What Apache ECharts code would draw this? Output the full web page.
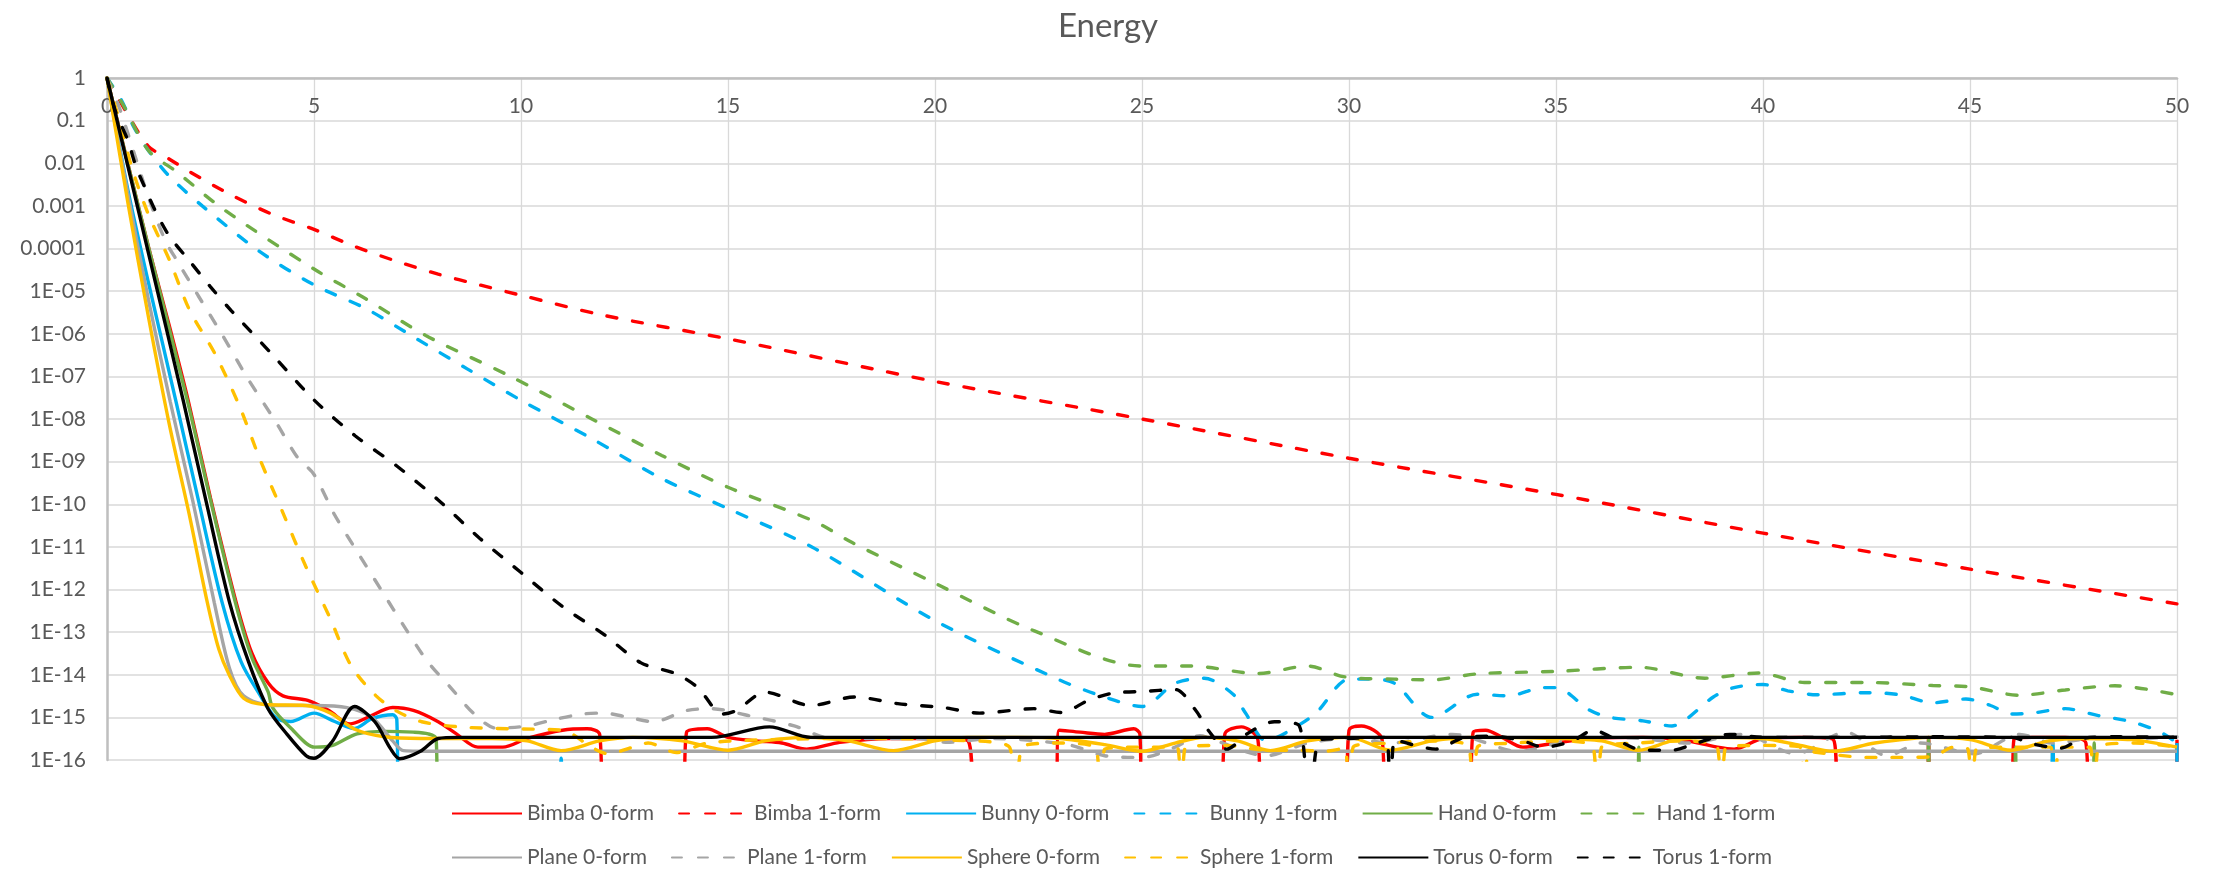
<!DOCTYPE html>
<html>
<head>
<meta charset="utf-8">
<title>Energy</title>
<script src="https://cdn.jsdelivr.net/npm/echarts@6/dist/echarts.min.js"></script>
<style>
  html, body { margin: 0; padding: 0; background: #ffffff; }
  #energyChart { width: 2216px; height: 870px; }
</style>
</head>
<body>
<div id="energyChart"></div>
<script>
// stands for an energy of 0, which a log axis cannot show: the line just drops out of the plot
const ZERO = 1e-18

const xTicks = [0, 5, 10, 15, 20, 25, 30, 35, 40, 45, 50]
const yTickLabels = ['1', '0.1', '0.01', '0.001', '0.0001', '1E-05', '1E-06', '1E-07', '1E-08',
    '1E-09', '1E-10', '1E-11', '1E-12', '1E-13', '1E-14', '1E-15', '1E-16']

const seriesNames = ['Bimba 0-form', 'Bimba 1-form', 'Bunny 0-form', 'Bunny 1-form', 'Hand 0-form', 'Hand 1-form',
    'Plane 0-form', 'Plane 1-form', 'Sphere 0-form', 'Sphere 1-form', 'Torus 0-form', 'Torus 1-form']

// [iteration, energy]
const bimba0 = [[0, 1], [0.5, 1e-2], [1, 1.1e-4], [1.5, 1.6e-6], [1.97, 2.5e-8], [2.5, 1.4e-10], [3.12, 5e-13],
    [3.5, 3.2e-14], [3.9, 6.3e-15], [4.25, 3.2e-15], [4.85, 2.5e-15], [5.36, 1.45e-15], [5.87, 7e-16], [6.3, 1e-15],
    [6.9, 1.7e-15], [7.4, 1.45e-15], [8, 7.9e-16], [8.44, 4.1e-16], [8.96, 2e-16], [9.56, 2e-16], [10.15, 3.2e-16],
    [11, 5e-16], [11.6, 5.4e-16], [11.9, 4e-16], [12, ZERO], [13.9, ZERO], [14, 4.5e-16], [14.5, 5.4e-16],
    [15, 3.4e-16], [15.7, 2.8e-16], [16.3, 2.5e-16], [16.9, 1.8e-16], [17.7, 2.6e-16], [18.9, 3.2e-16],
    [20.2, 3.2e-16], [20.8, 2.8e-16], [21, ZERO], [22.9, ZERO], [23, 5e-16], [23.5, 4.5e-16], [24.1, 4e-16],
    [24.8, 5.4e-16], [24.95, 4e-16], [25, ZERO], [26.9, ZERO], [27, 4e-16], [27.4, 6e-16], [27.8, 3e-16],
    [27.9, ZERO], [29.9, ZERO], [30, 5e-16], [30.3, 6.3e-16], [30.8, 3e-16], [30.9, ZERO], [32.9, ZERO],
    [33, 4.5e-16], [33.3, 5e-16], [33.7, 3.4e-16], [34.2, 2e-16], [35, 2.5e-16], [35.8, 3.2e-16], [37.1, 3.4e-16],
    [38, 3e-16], [38.9, 2e-16], [39.3, 1.8e-16], [40, 3.2e-16], [40.9, 3.4e-16], [41.7, 3e-16], [41.85, ZERO],
    [43.95, ZERO], [44, 3.4e-16], [44.05, ZERO], [46, ZERO], [46.06, 3e-16], [46.5, 3.4e-16], [47.3, 3.4e-16],
    [47.8, 2.5e-16], [47.9, ZERO], [49.95, ZERO], [50, 3e-16]]
const bimba1 = [[0, 1], [0.5, 0.14], [1, 0.025], [1.5, 0.0126], [2, 0.0063], [3, 1.8e-3], [4, 6.3e-4], [5, 2.8e-4],
    [6, 1.1e-4], [7, 5e-5], [8, 2.5e-5], [9, 1.4e-5], [10, 8e-6], [12, 2.7e-6], [15, 7.6e-7], [20, 7.6e-8],
    [25, 1e-8], [30, 1.2e-9], [35, 1.7e-10], [40, 2.1e-11], [45, 3e-12], [50, 4.6e-13]]
const bunny0 = [[0, 1], [0.5, 2.5e-3], [1, 1.6e-5], [1.67, 2.5e-8], [2.22, 1.1e-10], [2.78, 5e-13], [3.24, 2e-14],
    [3.7, 3.3e-15], [4.07, 1e-15], [4.44, 8e-16], [5, 1.26e-15], [5.5, 8e-16], [5.97, 5.5e-16], [6.4, 9.3e-16],
    [6.9, 1.15e-15], [7, 9e-16], [7.05, ZERO], [10.9, ZERO], [10.97, 1.1e-16], [11.04, ZERO], [46.9, ZERO],
    [47, 2.5e-16], [47.1, ZERO], [49.95, ZERO], [50, 2.5e-16]]
const bunny1 = [[0, 1], [0.35, 0.3], [0.65, 0.07], [1, 0.02], [1.5, 5e-3], [2.3, 1e-3], [3.65, 9e-5], [5, 1.4e-5],
    [6.25, 3.9e-6], [7.48, 7.6e-7], [8.7, 1.5e-7], [10, 2.75e-8], [11.7, 3.5e-9], [13.4, 4e-10], [15, 7.9e-11],
    [17.1, 9.1e-12], [20, 1.86e-13], [23, 7.6e-15], [24.1, 3e-15], [25, 1.8e-15], [25.8, 6.3e-15], [26.5, 8.3e-15],
    [27.2, 3.5e-15], [27.5, 1.26e-15], [28, 2.8e-16], [28.5, 4.5e-16], [29.2, 1.26e-15], [30, 7.9e-15],
    [30.6, 7.9e-15], [31.1, 6.3e-15], [32, 1e-15], [33.1, 3.5e-15], [33.85, 3.2e-15], [34.7, 5e-15], [35, 5e-15],
    [35.8, 1.5e-15], [36.3, 1e-15], [37.1, 8.3e-16], [37.8, 6.3e-16], [38.1, 8.3e-16], [38.8, 3e-15], [39.3, 5e-15],
    [40, 5.9e-15], [40.6, 4.2e-15], [41.3, 3.4e-15], [42.5, 3.8e-15], [43.3, 3.4e-15], [44.1, 2.2e-15],
    [44.9, 2.7e-15], [45.5, 1.9e-15], [46, 1.2e-15], [46.5, 1.26e-15], [47.3, 1.6e-15], [48.1, 1.1e-15],
    [48.9, 7.9e-16], [49.6, 4.5e-16], [50, 2.5e-16]]
const hand0 = [[0, 1], [0.5, 1e-2], [1, 1.1e-4], [1.95, 2.5e-8], [2.5, 1.26e-10], [3.1, 5e-13], [3.5, 2.5e-14],
    [3.89, 4e-15], [4, 1.7e-15], [4.42, 5.9e-16], [5.02, 2e-16], [5.45, 2.2e-16], [6.04, 4.1e-16], [6.73, 4.7e-16],
    [7.4, 4.5e-16], [7.76, 4.1e-16], [7.95, 3.2e-16], [8, ZERO], [36.95, ZERO], [37, 2e-16], [37.05, ZERO],
    [43.95, ZERO], [44, 3e-16], [44.05, ZERO], [46.05, ZERO], [46.1, 2e-16], [46.15, ZERO], [47.95, ZERO],
    [48, 2.5e-16], [48.05, ZERO], [50, ZERO]]
const hand1 = [[0, 1], [0.38, 0.245], [1, 0.02], [1.68, 6.3e-3], [2.8, 8.5e-4], [5, 3.3e-5], [6.25, 6.6e-6],
    [7.7, 9.1e-7], [9.7, 1.05e-7], [11.7, 1.02e-8], [13.4, 1.4e-9], [15, 2.5e-10], [17.1, 3.9e-11], [18, 1.26e-11],
    [20, 1.4e-12], [22.4, 1.07e-13], [25, 1.6e-14], [26.2, 1.6e-14], [27.8, 1.07e-14], [29, 1.6e-14],
    [29.9, 8.9e-15], [31.1, 7.9e-15], [32, 7.6e-15], [33.1, 1.05e-14], [35, 1.2e-14], [37, 1.5e-14],
    [38.6, 8.3e-15], [39.9, 1.1e-14], [41, 6.6e-15], [42.5, 6.6e-15], [44.1, 5.6e-15], [45, 5.2e-15],
    [46.2, 3.3e-15], [47.3, 4.4e-15], [48.5, 5.5e-15], [50, 3.4e-15]]
const plane0 = [[0, 1], [0.5, 2e-3], [1, 6.3e-6], [1.53, 2.5e-8], [2.08, 1.1e-10], [2.59, 5e-13], [2.96, 1.4e-14],
    [3.3, 3.2e-15], [4, 1.9e-15], [5, 1.9e-15], [5.8, 1.7e-15], [6.4, 1e-15], [6.9, 2.8e-16], [7.16, 1.66e-16],
    [8, 1.6e-16], [20, 1.6e-16], [35, 1.6e-16], [50, 1.6e-16]]
const plane1 = [[0, 1], [0.3, 0.2], [0.7, 1.26e-2], [1, 1.6e-3], [1.4, 1.6e-4], [1.7, 5e-5], [2.2, 7.9e-6],
    [2.8, 8.9e-7], [3.4, 8.9e-8], [4.1, 7.9e-9], [4.6, 1.26e-9], [5, 5e-10], [5.5, 5.6e-11], [6.1, 6.3e-12],
    [6.65, 8.9e-13], [7.2, 1.26e-13], [7.75, 2e-14], [8.3, 5e-15], [8.85, 1.26e-15], [9.4, 5.6e-16],
    [10.15, 6.3e-16], [10.8, 8.9e-16], [11.5, 1.2e-15], [12, 1.26e-15], [12.6, 1e-15], [13.2, 7.9e-16],
    [14, 1.45e-15], [14.6, 1.6e-15], [15.5, 1.1e-15], [16.6, 6.3e-16], [17.5, 3.2e-16], [19.6, 3.2e-16],
    [20.3, 2.6e-16], [21.4, 3.2e-16], [23.2, 2.3e-16], [24.1, 1.26e-16], [25, 1.15e-16], [25.8, 2e-16],
    [26.4, 3.7e-16], [26.8, 2.8e-16], [28, 1.26e-16], [29, 2.5e-16], [30, 3.2e-16], [31, 2.5e-16], [32.5, 4e-16],
    [34.1, 1.6e-16], [35.75, 3.5e-16], [37, 3.2e-16], [38.2, 2.5e-16], [39.5, 4e-16], [40.8, 1.4e-16],
    [42, 4.5e-16], [43, 1.26e-16], [43.8, 2.5e-16], [45.1, 1.4e-16], [46.2, 4e-16], [47, 2.5e-16], [48, 3.2e-16],
    [49, 3.2e-16], [50, 3.5e-16]]
const sphere0 = [[0, 1], [0.5, 1.26e-3], [1, 2.5e-6], [1.5, 7.9e-9], [2, 5e-11], [2.4, 6.3e-13], [2.7, 4e-14],
    [2.95, 1e-14], [3.3, 2.8e-15], [3.8, 2e-15], [4.8, 1.9e-15], [5.4, 1.26e-15], [6, 5.2e-16], [6.7, 3.5e-16],
    [7.6, 3.2e-16], [8.5, 3.2e-16], [9.3, 3.2e-16], [10.15, 2.8e-16], [10.97, 1.66e-16], [11.9, 2.8e-16],
    [12.7, 3.4e-16], [13.9, 2.8e-16], [15, 1.7e-16], [15.9, 2.8e-16], [16.9, 3.4e-16], [17.9, 2.8e-16],
    [19, 1.66e-16], [20, 2.8e-16], [20.8, 3.4e-16], [22, 3.4e-16], [23, 3.2e-16], [24.1, 2.3e-16], [25, 1.6e-16],
    [25.8, 2.5e-16], [26.5, 3.4e-16], [27.3, 2.8e-16], [28.1, 1.66e-16], [29, 2.8e-16], [30, 3.4e-16],
    [31, 1.7e-16], [32, 2.8e-16], [33, 3.4e-16], [35, 3.2e-16], [36.1, 2.8e-16], [37, 1.7e-16], [37.8, 2.8e-16],
    [38.6, 3.4e-16], [40, 3.2e-16], [40.9, 2.2e-16], [41.7, 1.6e-16], [42.7, 2.5e-16], [44.1, 3.4e-16],
    [45, 3e-16], [46, 1.7e-16], [46.9, 2.8e-16], [47.7, 3.2e-16], [48.9, 3e-16], [50, 2e-16]]
const sphere1 = [[0, 1], [0.3, 0.1], [0.6, 7.9e-3], [1, 6.3e-4], [1.5, 5.6e-5], [2, 3.5e-6], [2.6, 3.5e-7],
    [3.2, 2e-8], [3.7, 1.1e-9], [4.25, 6.3e-11], [4.8, 3.5e-12], [5.4, 2e-13], [5.9, 1.6e-14], [6.5, 3.2e-15],
    [7, 1.4e-15], [7.6, 7.9e-16], [8.5, 6e-16], [9.7, 5.4e-16], [11, 5e-16], [11.7, 2e-16], [12.1, 1.4e-16],
    [12.7, 2e-16], [13.07, 2.5e-16], [13.75, 1.5e-16], [14.5, 2.5e-16], [16, 3e-16], [18, 3.2e-16], [20, 3e-16],
    [21.8, 2e-16], [21.95, ZERO], [22.1, 2e-16], [23, 2.5e-16], [23.9, 1.8e-16], [24, ZERO], [24.1, 1.8e-16],
    [25, 2e-16], [25.85, 2e-16], [25.95, ZERO], [26.05, 2e-16], [27, 2.2e-16], [28, 1.7e-16], [28.8, 1.7e-16],
    [29.4, 1.6e-16], [29.9, 1.9e-16], [30, ZERO], [30.1, 2e-16], [31, 2.5e-16], [32, 2.8e-16], [32.9, 2e-16],
    [33, ZERO], [33.1, 2e-16], [34, 2.5e-16], [35, 2.8e-16], [35.9, 2e-16], [36, ZERO], [36.1, 2e-16],
    [37, 2.5e-16], [38, 2.8e-16], [38.9, 2e-16], [39, ZERO], [39.1, 2e-16], [40, 2.2e-16], [40.9, 2e-16],
    [41, ZERO], [41.1, 1.6e-16], [42.5, 1.15e-16], [43.3, 1.15e-16], [44.1, 1.2e-16], [44.6, 2e-16],
    [44.95, 1.8e-16], [45.05, ZERO], [45.15, 1.8e-16], [46, 2e-16], [46.95, 2e-16], [47.05, ZERO],
    [47.15, 2e-16], [47.9, 2e-16], [48, ZERO], [48.1, 2e-16], [49, 2.5e-16], [50, 2e-16]]
const torus0 = [[0, 1], [0.5, 8.9e-3], [1, 7.9e-5], [1.85, 2.5e-8], [2.4, 1.1e-10], [2.96, 5e-13], [3.42, 2e-14],
    [3.89, 1.6e-15], [4.35, 4e-16], [4.81, 1.26e-16], [5, 1.1e-16], [5.45, 2.8e-16], [5.98, 1.8e-15],
    [6.47, 7.9e-16], [6.84, 1.9e-16], [7.07, 1.07e-16], [7.57, 1.6e-16], [8, 3.2e-16], [8.5, 3.4e-16],
    [10, 3.4e-16], [14.6, 3.4e-16], [16, 6e-16], [17, 3.4e-16], [20, 3.4e-16], [30, 3.4e-16], [40, 3.4e-16],
    [50, 3.4e-16]]
const torus1 = [[0, 1], [0.2, 0.17], [0.5, 3.5e-2], [0.7, 8.3e-3], [0.9, 2.9e-3], [1.16, 7.9e-4], [1.5, 2e-4],
    [2, 5e-5], [2.5, 1.26e-5], [3, 3.5e-6], [4, 3.2e-7], [5, 2.8e-8], [6, 4e-9], [7, 7.9e-10], [8, 1.26e-10],
    [9, 1.6e-11], [10, 2.5e-12], [11, 4e-13], [12, 8.9e-14], [12.9, 1.9e-14], [13.75, 1.05e-14], [14.27, 5e-15],
    [14.87, 1.2e-15], [15.2, 1.45e-15], [15.9, 3.9e-15], [17, 1.9e-15], [18.06, 3e-15], [19.1, 2.1e-15],
    [20.2, 1.7e-15], [21.08, 1.26e-15], [22.4, 1.6e-15], [23.06, 1.3e-15], [23.7, 2.5e-15], [24.3, 3.7e-15],
    [25.1, 4.1e-15], [25.8, 4.5e-15], [26.3, 1.45e-15], [26.6, 5e-16], [27.04, 1.8e-16], [27.6, 4.5e-16],
    [28.2, 7.9e-16], [28.8, 6.3e-16], [29.05, ZERO], [29.3, 3e-16], [30, 3.2e-16], [30.9, 3.4e-16], [31, ZERO],
    [31.1, 3e-16], [32.1, 1.8e-16], [32.8, 3.4e-16], [33.5, 3.6e-16], [34.2, 2.8e-16], [34.7, 2e-16],
    [35.4, 2.8e-16], [35.9, 5e-16], [36.4, 3.2e-16], [37.1, 1.7e-16], [37.8, 1.7e-16], [38.4, 2.5e-16],
    [39.2, 4e-16], [40, 3.4e-16], [42, 3.4e-16], [44, 3.5e-16], [46, 3.4e-16], [46.5, 2.4e-16], [47.2, 1.9e-16],
    [47.7, 3.2e-16], [48.5, 3.5e-16], [50, 3.4e-16]]

const seriesData = [bimba0, bimba1, bunny0, bunny1, hand0, hand1, plane0, plane1, sphere0, sphere1, torus0, torus1]
const seriesColors = ['#FF0000', '#FF0000', '#00B0F0', '#00B0F0', '#70AD47', '#70AD47',
    '#A5A5A5', '#A5A5A5', '#FFC000', '#FFC000', '#000000', '#000000']

const textColor = '#595959'
const fontFamily = 'Lato'

let chart = echarts.init(document.getElementById('energyChart'), null, { renderer: 'canvas' })

let series = seriesNames.map((name, i) => {
    let dashed = i % 2 === 1
    return {
        name: name,
        type: 'line',
        data: seriesData[i],
        symbol: 'none',
        smooth: 0.3,
        clip: true,
        lineStyle: {
            color: seriesColors[i],
            width: 3.4,
            type: dashed ? [10, 16] : 'solid',
            cap: dashed ? 'round' : 'butt',
        },
        itemStyle: { color: seriesColors[i] },
    }
})

function legendRow(names, top) {
    return {
        data: names,
        left: 446,
        top: top,
        orient: 'horizontal',
        itemWidth: 70,
        itemHeight: 14,
        itemGap: 24,
        selectedMode: false,
        // hide the dot ECharts puts in the middle of a line legend icon
        itemStyle: { opacity: 0 },
        textStyle: {
            color: textColor,
            fontSize: 21,
            fontFamily: fontFamily,
            width: 137,
        },
    }
}

let chartOptions = {
    animation: false,
    backgroundColor: '#ffffff',
    textStyle: { fontFamily: fontFamily },
    title: {
        text: 'Energy',
        left: 'center',
        top: 5,
        textStyle: {
            color: textColor,
            fontSize: 33,
            fontWeight: 'normal',
            fontFamily: fontFamily,
        },
    },
    grid: {
        left: 107,
        right: 39,
        top: 78,
        bottom: 110,
        containLabel: false,
    },
    legend: [legendRow(seriesNames.slice(0, 6), 798), legendRow(seriesNames.slice(6), 842)],
    xAxis: {
        type: 'value',
        position: 'top',
        min: xTicks[0],
        max: xTicks[xTicks.length - 1],
        interval: xTicks[1] - xTicks[0],
        axisLine: {
            show: true,
            onZero: false,
            lineStyle: { color: '#bfbfbf', width: 2.5 },
        },
        axisTick: { show: false },
        axisLabel: {
            inside: true,
            margin: 18,
            color: textColor,
            fontSize: 21,
            fontFamily: fontFamily,
            showMinLabel: true,
            showMaxLabel: true,
        },
        splitLine: {
            show: true,
            lineStyle: { color: '#d9d9d9', width: 1.3 },
        },
    },
    yAxis: {
        type: 'log',
        logBase: 10,
        min: 1e-16,
        max: 1,
        interval: 1,
        splitNumber: 16,
        axisLine: {
            show: true,
            lineStyle: { color: '#bfbfbf', width: 2.5 },
        },
        axisTick: { show: false },
        axisLabel: {
            margin: 21,
            color: textColor,
            fontSize: 21,
            fontFamily: fontFamily,
            formatter: (value) => {
                let exp = Math.round(-Math.log10(value))
                return yTickLabels[exp] !== undefined ? yTickLabels[exp] : ''
            },
        },
        splitLine: {
            show: true,
            lineStyle: { color: '#d9d9d9', width: 1.6 },
        },
    },
    series: series,
}

chart.setOption(chartOptions)
</script>
</body>
</html>
